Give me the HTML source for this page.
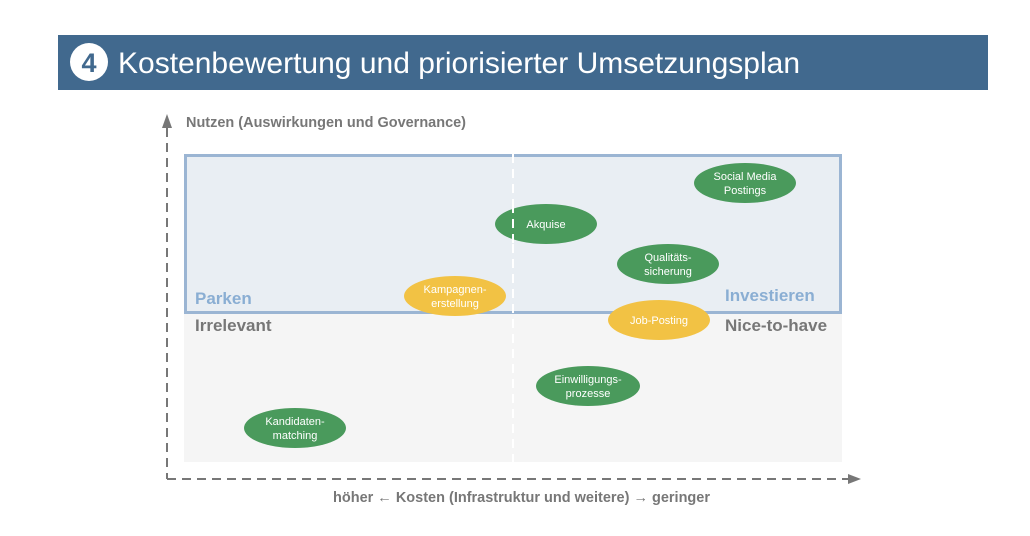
<!DOCTYPE html>
<html><head><meta charset="utf-8"><style>
body{margin:0;width:1030px;height:531px;background:#fff;overflow:hidden;font-family:"Liberation Sans",sans-serif}
</style></head><body>
<svg width="1030" height="531" xmlns="http://www.w3.org/2000/svg" font-family="Liberation Sans, sans-serif">
<rect x="58" y="35" width="930" height="55" fill="#41698e"/>
<circle cx="89" cy="62" r="19" fill="#fff"/>
<text x="89" y="72" text-anchor="middle" font-size="27" font-weight="bold" fill="#41698e">4</text>
<text x="118" y="73" font-size="30" fill="#fff" textLength="682" lengthAdjust="spacingAndGlyphs">Kostenbewertung und priorisierter Umsetzungsplan</text>
<rect x="184" y="154" width="658" height="308" fill="#f5f5f5"/>
<rect x="185.5" y="155.5" width="655" height="157" fill="#e9eef3" stroke="#9bb5d3" stroke-width="3"/>
<line x1="513" y1="154" x2="513" y2="462" stroke="#fff" stroke-width="2" stroke-dasharray="9,6"/>
<line x1="167" y1="128" x2="167" y2="479" stroke="#777" stroke-width="2" stroke-dasharray="9,6"/>
<polygon points="162,128 172,128 167,114" fill="#777"/>
<line x1="167" y1="479" x2="848" y2="479" stroke="#777" stroke-width="2" stroke-dasharray="9,6"/>
<polygon points="848,474 848,484 861,479" fill="#777"/>
<text x="186" y="127" font-size="14.5" font-weight="bold" fill="#777" textLength="280" lengthAdjust="spacingAndGlyphs">Nutzen (Auswirkungen und Governance)</text>
<text x="333" y="502" font-size="14.5" font-weight="bold" fill="#777" textLength="377" lengthAdjust="spacingAndGlyphs">höher ← Kosten (Infrastruktur und weitere) → geringer</text>
<text x="195" y="304" font-size="17" font-weight="bold" fill="#8aaed3">Parken</text>
<text x="725" y="301" font-size="17" font-weight="bold" fill="#8aaed3">Investieren</text>
<text x="195" y="331" font-size="17" font-weight="bold" fill="#777">Irrelevant</text>
<text x="725" y="331" font-size="17" font-weight="bold" fill="#777">Nice-to-have</text>
<g font-size="11" fill="#fff" text-anchor="middle">
<ellipse cx="745" cy="183" rx="51" ry="20" fill="#4a9a5c"/><text x="745" y="180">Social Media</text><text x="745" y="194">Postings</text>
<ellipse cx="546" cy="224" rx="51" ry="20" fill="#4a9a5c"/><text x="546" y="228">Akquise</text>
<line x1="513" y1="204" x2="513" y2="244" stroke="#fff" stroke-width="2" stroke-dasharray="9,6"/>
<ellipse cx="668" cy="264" rx="51" ry="20" fill="#4a9a5c"/><text x="668" y="261">Qualitäts-</text><text x="668" y="275">sicherung</text>
<ellipse cx="455" cy="296" rx="51" ry="20" fill="#f2c244"/><text x="455" y="293">Kampagnen-</text><text x="455" y="307">erstellung</text>
<ellipse cx="659" cy="320" rx="51" ry="20" fill="#f2c244"/><text x="659" y="324">Job-Posting</text>
<ellipse cx="588" cy="386" rx="52" ry="20" fill="#4a9a5c"/><text x="588" y="383">Einwilligungs-</text><text x="588" y="397">prozesse</text>
<ellipse cx="295" cy="428" rx="51" ry="20" fill="#4a9a5c"/><text x="295" y="425">Kandidaten-</text><text x="295" y="439">matching</text>
</g>
</svg>
</body></html>
